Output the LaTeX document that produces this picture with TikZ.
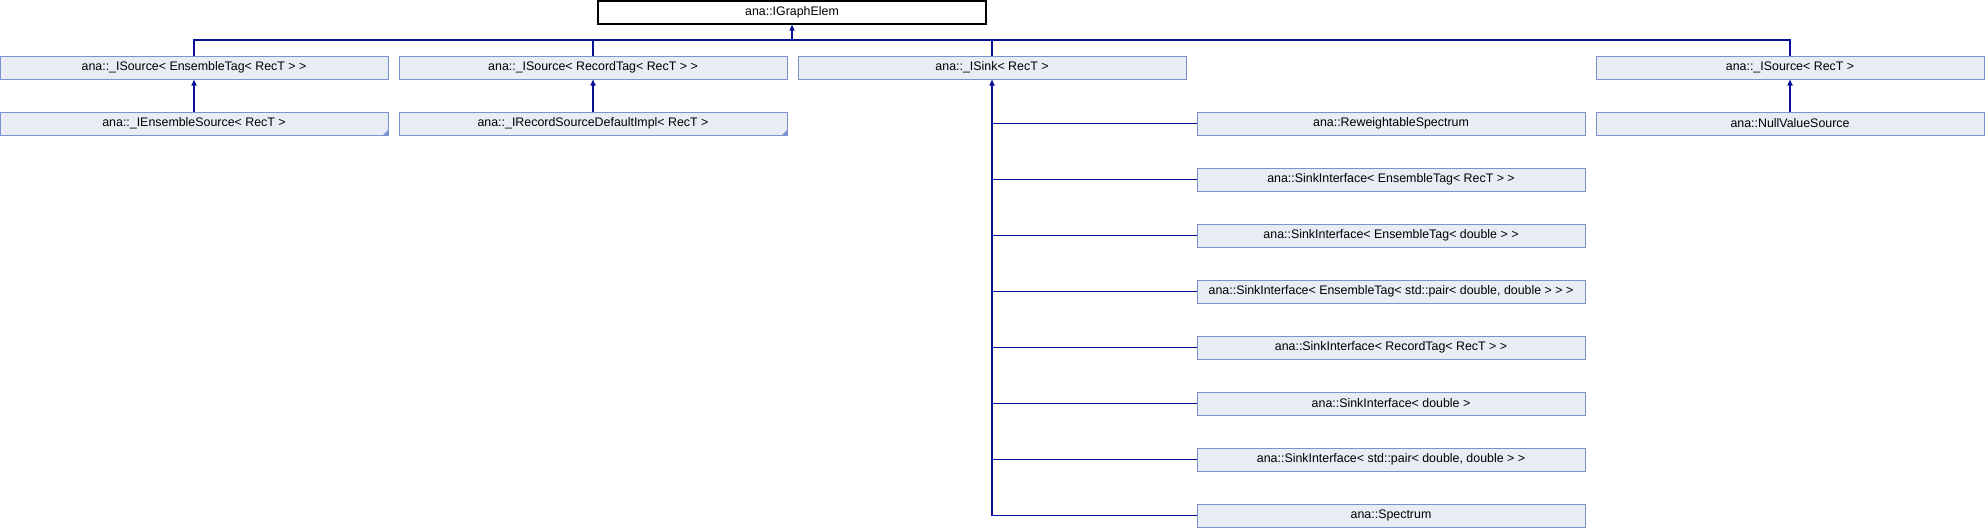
\documentclass[tikz,border=0pt]{standalone}
\usepackage{fontspec}
\setmainfont{Liberation Sans}
\usepackage{tikz}
\usetikzlibrary{arrows.meta, calc}
\definecolor{clsfill}{RGB}{232, 236, 245}
\definecolor{clsline}{RGB}{124, 146, 206}
\definecolor{inhblue}{RGB}{10, 16, 150}

\begin{document}
\begin{tikzpicture}[
  x=1pt, y=-1pt,
  every node/.style={font=\fontsize{12.4}{14}\selectfont, minimum width=388pt, minimum height=23pt, inner sep=0pt},
  cls/.style={draw=clsline, fill=clsfill, line width=1pt},
  root/.style={draw=black, fill=white, line width=1.2pt},
  inh/.style={line width=1.5pt, inhblue},
  arr/.style={inh, -{Triangle[length=6pt, width=5pt]}},
  more/.style={fill=clsline}
]
  \useasboundingbox (0, 0) rectangle (1985, 528);

  % Base class
  \node[root] (elem) at (792, 12.5) {ana::IGraphElem};

  % Direct subclasses
  \node[cls] (srcens) at (194, 67.5)  {ana::\_ISource< EnsembleTag< RecT > >};
  \node[cls] (srcrec) at (593, 67.5)  {ana::\_ISource< RecordTag< RecT > >};
  \node[cls] (sink)   at (992, 67.5)  {ana::\_ISink< RecT >};
  \node[cls] (srct)   at (1790, 67.5) {ana::\_ISource< RecT >};

  % Second level
  \node[cls] (enssrc)  at (194, 123.5)  {ana::\_IEnsembleSource< RecT >};
  \node[cls] (recimpl) at (593, 123.5)  {ana::\_IRecordSourceDefaultImpl< RecT >};
  \node[cls] (nullsrc) at (1790, 123.5) {ana::NullValueSource};

  % Sink implementations
  \node[cls] (rwspec)  at (1391, 123.5) {ana::ReweightableSpectrum};
  \node[cls] (siens)   at (1391, 179.5) {ana::SinkInterface< EnsembleTag< RecT > >};
  \node[cls] (siensd)  at (1391, 235.5) {ana::SinkInterface< EnsembleTag< double > >};
  \node[cls] (sienspr) at (1391, 291.5) {ana::SinkInterface< EnsembleTag< std::pair< double, double > > >};
  \node[cls] (sirec)   at (1391, 347.5) {ana::SinkInterface< RecordTag< RecT > >};
  \node[cls] (sid)     at (1391, 403.5) {ana::SinkInterface< double >};
  \node[cls] (sipr)    at (1391, 459.5) {ana::SinkInterface< std::pair< double, double > >};
  \node[cls] (spec)    at (1391, 515.5) {ana::Spectrum};

  % Folded corners (incomplete classes)
  \fill[more] (enssrc.south east) -- ++(-6, 0) -- ++(6, -6) -- cycle;
  \fill[more] (recimpl.south east) -- ++(-6, 0) -- ++(6, -6) -- cycle;

  % Inheritance bus
  \coordinate (bus) at (792, 40);
  \draw[arr] (bus) -- (elem.south);
  \draw[inh] (srcens.north) -- (srcens.north |- bus) -- (srct.north |- bus) -- (srct.north);
  \draw[inh] (srcrec.north) -- (srcrec.north |- bus);
  \draw[inh] (sink.north) -- (sink.north |- bus);

  % Second level arrows
  \draw[arr] (enssrc.north) -- (srcens.south);
  \draw[arr] (recimpl.north) -- (srcrec.south);
  \draw[arr] (nullsrc.north) -- (srct.south);

  % Sink tree
  \draw[arr] (spec.west) -| (sink.south);
  \foreach \c in {rwspec, siens, siensd, sienspr, sirec, sid, sipr}
    \draw[inh] (\c.west) -- (\c.west -| sink.south);
\end{tikzpicture}
\end{document}
